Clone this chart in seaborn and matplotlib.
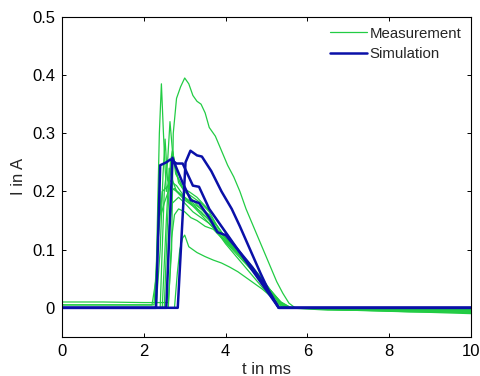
import matplotlib
matplotlib.use("Agg")
import matplotlib.pyplot as plt
import seaborn as sns
from matplotlib.lines import Line2D

# ── Data ──────────────────────────────────────────────────────────────
# Measurement curves (t in ms, I in A)
meas_t = [
    [0, 1, 2, 2.6, 2.68, 2.72, 2.8, 2.9, 3.0, 3.1, 3.2, 3.3, 3.4, 3.5, 3.6, 3.75, 3.9, 4.05, 4.2,
     4.35, 4.5, 4.65, 4.8, 4.95, 5.1, 5.25, 5.4, 5.55, 5.7, 7, 8.5, 10],
    [0, 2.2, 2.3, 2.38, 2.43, 2.48, 2.55, 2.62, 2.7, 2.8, 2.9, 3.0, 3.2, 3.4, 3.6, 3.8, 4.0, 4.3,
     4.6, 4.9, 5.2, 5.4, 5.6, 7, 10],
    [0, 2.3, 2.4, 2.5, 2.58, 2.64, 2.7, 2.78, 2.9, 3.0, 3.2, 3.4, 3.6, 3.8, 4.0, 4.3, 4.6, 4.9,
     5.2, 5.4, 5.6, 10],
    [0, 2.3, 2.4, 2.47, 2.52, 2.58, 2.65, 2.75, 2.9, 3.05, 3.25, 3.45, 3.65, 3.85, 4.1, 4.4, 4.7,
     5.0, 5.3, 5.5, 10],
    [0, 2.28, 2.33, 2.37, 2.42, 2.5, 2.6, 2.7, 2.85, 3.0, 3.2, 3.4, 3.6, 3.8, 4.0, 4.3, 4.6, 4.9,
     5.2, 5.4, 10],
    [0, 2.75, 2.82, 2.88, 2.95, 3.0, 3.1, 3.3, 3.5, 3.7, 3.9, 4.1, 4.3, 4.5, 4.7, 4.9, 5.1, 5.3,
     5.5, 6.5, 10],
    [0, 2.6, 2.68, 2.75, 2.85, 3.0, 3.15, 3.3, 3.5, 3.7, 3.9, 4.1, 4.3, 4.5, 4.7, 4.9, 5.1, 5.3,
     5.5, 10],
    [0, 2.45, 2.55, 2.62, 2.7, 2.8, 3.0, 3.2, 3.4, 3.6, 3.8, 4.0, 4.2, 4.5, 4.8, 5.1, 5.35, 5.6, 10],
    [0, 2.5, 2.58, 2.65, 2.7, 2.8, 2.95, 3.1, 3.3, 3.5, 3.7, 3.9, 4.1, 4.3, 4.6, 4.9, 5.2, 5.45, 10],
    [0, 2.55, 2.62, 2.7, 2.85, 3.0, 3.2, 3.4, 3.6, 3.8, 4.0, 4.2, 4.5, 4.8, 5.1, 5.35, 5.6, 10],
    [0, 2.25, 2.33, 2.45, 2.6, 2.8, 3.0, 3.2, 3.4, 3.6, 3.8, 4.0, 4.3, 4.6, 4.9, 5.2, 5.4, 10],
]
meas_i = [
    [0.01, 0.01, 0.009, 0.009, 0.1, 0.3, 0.36, 0.38, 0.395, 0.385, 0.365, 0.355, 0.35, 0.335,
     0.31, 0.295, 0.27, 0.245, 0.225, 0.2, 0.17, 0.145, 0.12, 0.095, 0.07, 0.045, 0.025, 0.008,
     0.0, -0.004, -0.007, -0.008],
    [0.005, 0.005, 0.05, 0.3, 0.385, 0.3, 0.2, 0.22, 0.215, 0.21, 0.2, 0.19, 0.175, 0.165, 0.15,
     0.13, 0.115, 0.095, 0.07, 0.045, 0.02, 0.005, 0.0, -0.003, -0.006],
    [0, 0, 0.0, 0.2, 0.25, 0.32, 0.27, 0.23, 0.215, 0.2, 0.19, 0.18, 0.165, 0.14, 0.12, 0.1, 0.07,
     0.045, 0.02, 0.005, 0.0, -0.004],
    [0, 0, 0.1, 0.23, 0.29, 0.22, 0.2, 0.205, 0.195, 0.185, 0.175, 0.16, 0.15, 0.13, 0.11, 0.085,
     0.06, 0.035, 0.012, 0.0, -0.003],
    [0, 0, 0.1, 0.23, 0.16, 0.18, 0.2, 0.27, 0.215, 0.2, 0.185, 0.17, 0.155, 0.14, 0.12, 0.095,
     0.07, 0.045, 0.018, 0.0, -0.002],
    [0, 0, 0.06, 0.1, 0.12, 0.125, 0.105, 0.095, 0.088, 0.082, 0.077, 0.07, 0.062, 0.052, 0.042,
     0.032, 0.02, 0.008, 0.0, -0.004, -0.006],
    [0, 0, 0.12, 0.16, 0.17, 0.165, 0.155, 0.15, 0.14, 0.135, 0.12, 0.105, 0.09, 0.075, 0.06,
     0.045, 0.03, 0.013, 0.0, -0.005],
    [0, 0, 0.15, 0.24, 0.22, 0.2, 0.19, 0.18, 0.17, 0.16, 0.14, 0.12, 0.105, 0.08, 0.055, 0.03,
     0.01, 0.0, -0.003],
    [0, 0, 0.15, 0.25, 0.27, 0.23, 0.205, 0.2, 0.19, 0.175, 0.16, 0.14, 0.12, 0.1, 0.075, 0.05,
     0.02, 0.0, -0.004],
    [0, 0, 0.14, 0.18, 0.19, 0.18, 0.165, 0.155, 0.145, 0.13, 0.115, 0.1, 0.08, 0.055, 0.03, 0.01,
     0.0, -0.008],
    [0.005, 0.005, 0.1, 0.2, 0.21, 0.2, 0.185, 0.175, 0.16, 0.145, 0.13, 0.11, 0.085, 0.06, 0.035,
     0.012, 0.0, -0.01],
]

# Simulation curves
sim_t = [
    [0, 2.3, 2.4, 2.55, 2.65, 2.8, 2.95, 3.2, 3.35, 3.6, 3.8, 4.1, 4.5, 4.9, 5.3, 10],
    [0, 2.55, 2.7, 2.8, 2.95, 3.05, 3.15, 3.35, 3.6, 3.8, 4.0, 4.3, 4.65, 5.0, 5.3, 10],
    [0, 2.83, 3.02, 3.14, 3.3, 3.42, 3.65, 3.9, 4.15, 4.35, 4.6, 4.85, 5.05, 5.3, 10],
]
sim_i = [
    [0, 0, 0.245, 0.25, 0.255, 0.248, 0.248, 0.21, 0.208, 0.17, 0.15, 0.12, 0.08, 0.04, 0.0, 0.0],
    [0, 0, 0.258, 0.24, 0.215, 0.2, 0.185, 0.18, 0.155, 0.13, 0.125, 0.1, 0.07, 0.035, 0.0, 0.0],
    [0, 0, 0.25, 0.27, 0.262, 0.26, 0.235, 0.2, 0.17, 0.14, 0.1, 0.06, 0.03, 0.0, 0.0],
]

GREEN = "#22cc44"
BLUE = "#0a10a8"

# ── Plot ──────────────────────────────────────────────────────────────
sns.set_style("ticks")
plt.rcParams["font.family"] = ["Liberation Sans", "DejaVu Sans"]

fig = plt.figure(figsize=(4.81, 3.76), dpi=100)
ax = fig.add_axes([0.129, 0.104, 0.85, 0.851])

for t, i in zip(meas_t, meas_i):
    sns.lineplot(x=t, y=i, ax=ax, color=GREEN, lw=0.9, sort=False, estimator=None)
for t, i in zip(sim_t, sim_i):
    sns.lineplot(x=t, y=i, ax=ax, color=BLUE, lw=1.8, sort=False, estimator=None)

ax.set_xlim(0, 10)
ax.set_ylim(-0.05, 0.5)
ax.set_xticks([0, 2, 4, 6, 8, 10])
ax.set_yticks([0, 0.1, 0.2, 0.3, 0.4, 0.5])
ax.set_yticklabels(["0", "0.1", "0.2", "0.3", "0.4", "0.5"])
ax.tick_params(direction="in", top=True, right=True, length=3, width=0.7,
               labelsize=12, colors="black", pad=5)
for sp in ax.spines.values():
    sp.set_linewidth(0.8)
    sp.set_color("black")

ax.set_xlabel("t in ms", fontsize=12, labelpad=2)
ax.set_ylabel("I in A", fontsize=12, labelpad=4)

handles = [Line2D([], [], color=GREEN, lw=0.9), Line2D([], [], color=BLUE, lw=1.8)]
ax.legend(handles, ["Measurement", "Simulation"], loc="upper right", frameon=False,
          fontsize=10.8, handlelength=2.5, handletextpad=0.15, labelspacing=0.45,
          borderaxespad=0.25)

fig.savefig("out.png", dpi=100)
